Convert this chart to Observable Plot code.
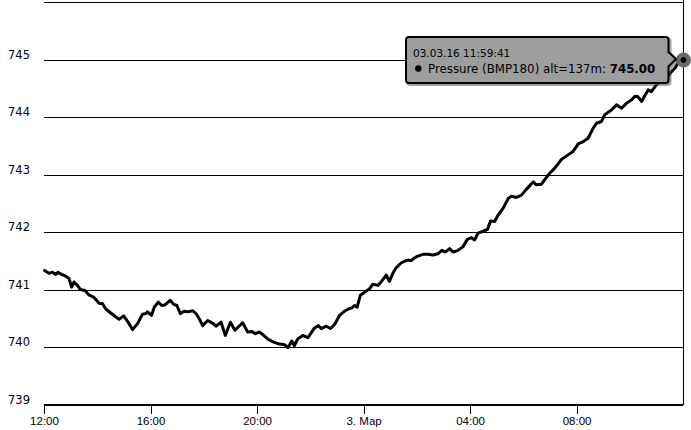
<!DOCTYPE html>
<html>
<head>
<meta charset="utf-8">
<script src="https://cdn.jsdelivr.net/npm/d3@7"></script>
<script src="https://cdn.jsdelivr.net/npm/@observablehq/plot@0.6"></script>
<style>
  html, body { margin: 0; padding: 0; background: #fff; }
</style>
</head>
<body>
<div id="chart"></div>
<script>
// Hours elapsed since 2016-03-02 12:00 and pressure readings (mm Hg)
const hours = [
  0.00, 0.17, 0.30, 0.42, 0.51, 0.64, 0.80, 0.92, 1.02, 1.11, 1.24, 1.34, 1.52, 1.68, 1.86,
  2.05, 2.18, 2.30, 2.49, 2.68, 2.80, 2.97, 3.14, 3.31, 3.50, 3.68, 3.81, 3.87, 4.02, 4.12,
  4.27, 4.40, 4.52, 4.72, 4.85, 4.97, 5.10, 5.25, 5.38, 5.56, 5.69, 5.81, 5.94, 6.13, 6.32,
  6.44, 6.63, 6.79, 6.98, 7.15, 7.44, 7.63, 7.78, 7.92, 8.07, 8.23, 8.40, 8.63, 8.82, 9.01,
  9.14, 9.29, 9.38, 9.51, 9.70, 9.89, 10.14, 10.29, 10.39, 10.58, 10.74, 10.91, 11.08, 11.26, 11.41,
  11.54, 11.64, 11.74, 11.86, 12.02, 12.20, 12.33, 12.52, 12.64, 12.83, 12.95, 13.08, 13.21, 13.39, 13.52,
  13.65, 13.77, 13.87, 14.02, 14.21, 14.40, 14.59, 14.77, 14.92, 15.05, 15.21, 15.34, 15.53, 15.71, 15.88,
  16.03, 16.15, 16.28, 16.50, 16.63, 16.75, 16.90, 17.03, 17.22, 17.41, 17.53, 17.72, 17.91, 18.09, 18.35,
  18.47, 18.66, 18.85, 18.97, 19.16, 19.41, 19.66, 19.85, 20.04, 20.23, 20.41, 20.60, 20.73, 20.91, 21.04,
  21.29, 21.48, 21.67, 21.86, 22.05, 22.17, 22.29, 22.42, 22.54, 22.67, 22.79, 22.98, 23.17, 23.36, 23.55,
  23.68, 23.80, 23.9947
];
const pressure = [
  741.34, 741.29, 741.31, 741.27, 741.31, 741.27, 741.24, 741.20, 741.05, 741.14, 741.08, 741.01, 740.99, 740.91, 740.87,
  740.77, 740.76, 740.67, 740.60, 740.53, 740.49, 740.55, 740.44, 740.31, 740.42, 740.58, 740.59, 740.62, 740.56, 740.70,
  740.79, 740.73, 740.74, 740.82, 740.75, 740.73, 740.59, 740.63, 740.62, 740.64, 740.59, 740.50, 740.38, 740.47, 740.42,
  740.37, 740.44, 740.21, 740.44, 740.30, 740.43, 740.27, 740.28, 740.24, 740.27, 740.21, 740.14, 740.09, 740.06, 740.05,
  740.00, 740.11, 740.03, 740.15, 740.21, 740.17, 740.34, 740.38, 740.33, 740.37, 740.33, 740.41, 740.56, 740.63, 740.67,
  740.69, 740.73, 740.70, 740.91, 740.96, 741.02, 741.10, 741.08, 741.14, 741.26, 741.15, 741.29, 741.39, 741.47, 741.50,
  741.52, 741.51, 741.55, 741.59, 741.62, 741.62, 741.61, 741.63, 741.69, 741.66, 741.72, 741.66, 741.69, 741.75, 741.88,
  741.91, 741.87, 741.99, 742.03, 742.05, 742.20, 742.19, 742.30, 742.42, 742.59, 742.63, 742.61, 742.65, 742.75, 742.88,
  742.83, 742.84, 742.96, 743.03, 743.12, 743.27, 743.35, 743.41, 743.54, 743.58, 743.64, 743.81, 743.90, 743.93, 744.05,
  744.13, 744.22, 744.16, 744.25, 744.31, 744.37, 744.36, 744.28, 744.38, 744.48, 744.45, 744.57, 744.66, 744.69, 744.80,
  744.86, 744.95, 745.00
];

const xTickTimes = ["2016-03-02T12:00", "2016-03-02T16:00", "2016-03-02T20:00", "2016-03-03T00:00", "2016-03-03T04:00", "2016-03-03T08:00"];
const xTickLabels = ["12:00", "16:00", "20:00", "3. Мар", "04:00", "08:00"];
const yGridValues = [740, 741, 742, 743, 744, 745, 746];
const yLabelValues = [739, 740, 741, 742, 743, 744, 745];
const yDomain = [739, 746];

const tooltipDate = "03.03.16 11:59:41";
const seriesName = "Pressure (BMP180) alt=137m";

const start = new Date(2016, 2, 2, 12, 0, 0);
const data = hours.map((h, i) => ({t: new Date(+start + h * 3600e3), v: pressure[i]}));
const last = data[data.length - 1];
const parseT = s => { const [d, tm] = s.split("T"); const [Y, M, D] = d.split("-").map(Number); const [hh, mm] = tm.split(":").map(Number); return new Date(Y, M - 1, D, hh, mm); };
const xTicks = xTickTimes.map(parseT);
const labelMap = new Map(xTicks.map((d, i) => [+d, xTickLabels[i]]));

const chart = Plot.plot({
  width: 691,
  height: 430,
  marginLeft: 44,
  marginRight: 8,
  marginTop: 2,
  marginBottom: 25.5,
  style: {fontFamily: "DejaVu Sans", fontSize: "11px", background: "#fff", overflow: "visible", color: "#000"},
  x: {type: "time", domain: [start, last.t], axis: null, label: null},
  y: {domain: yDomain, axis: null, label: null},
  marks: [
    Plot.ruleY(yGridValues, {stroke: "#000", strokeWidth: 1, shapeRendering: "crispEdges"}),
    Plot.ruleY([yDomain[0]], {stroke: "#000", strokeWidth: 1.3, shapeRendering: "crispEdges"}),
    Plot.axisX({ticks: xTicks, tickFormat: d => labelMap.get(+d), tickSize: 9, tickPadding: 2.5, label: null,
      stroke: "#000", fill: "#000", fontFamily: "Liberation Sans", fontSize: 11.5, shapeRendering: "crispEdges"}),
    Plot.text(yLabelValues, {y: d => d, text: d => String(d), frameAnchor: "left", dx: -36.5,
      textAnchor: "start", lineAnchor: "bottom", dy: -1.5, fill: "#000", fontSize: 11.5}),
    Plot.line(data, {x: "t", y: "v", stroke: "#000", strokeWidth: 3, strokeLinejoin: "round", strokeLinecap: "round"}),
    Plot.ruleX([last], {x: "t", stroke: "#000", strokeWidth: 1, insetTop: -3, shapeRendering: "crispEdges"}),
    Plot.dot([last], {x: "t", y: "v", r: 7.5, fill: "#6a6a6a", stroke: "none"}),
    Plot.dot([last], {x: "t", y: "v", r: 3.5, fill: "#000", stroke: "#888", strokeWidth: 0.8})
  ]
});
document.getElementById("chart").appendChild(chart);

// Tooltip anchored on the last point, positioned through the chart scales
const px = chart.scale("x").apply(last.t);
const py = chart.scale("y").apply(last.v);
const L = px - 277, R = px - 14.5, T = py - 22.5, B = py + 23.5, r = 3;
const tipX = px - 7;
const pathD = `M${L + r},${T} H${R - r} Q${R},${T} ${R},${T + r} V${py - 7.5} L${tipX},${py - 0.5} L${R},${py + 7} V${B - r} Q${R},${B} ${R - r},${B} H${L + r} Q${L},${B} ${L},${B - r} V${T + r} Q${L},${T} ${L + r},${T} Z`;
const svg = d3.select(chart);
const g = svg.append("g").attr("class", "tooltip").attr("text-anchor", "start");
g.append("path").attr("d", pathD).attr("transform", "translate(1.5,1.5)")
  .attr("fill", "none").attr("stroke", "#555").attr("stroke-opacity", 0.55).attr("stroke-width", 3);
g.append("path").attr("d", pathD).attr("fill", "#9d9d9d").attr("stroke", "#000").attr("stroke-width", 2);
g.append("text").attr("x", L + 7).attr("y", py - 3).attr("text-anchor", "start").attr("font-family", "DejaVu Sans").attr("font-size", 10.5)
  .attr("fill", "#000").text(tooltipDate);
g.append("circle").attr("cx", L + 12.3).attr("cy", py + 9).attr("r", 3.2).attr("fill", "#000");
const t2 = g.append("text").attr("x", L + 22).attr("y", py + 13).attr("text-anchor", "start").attr("font-family", "DejaVu Sans")
  .attr("font-size", 11.8).attr("fill", "#000");
t2.append("tspan").text(seriesName + ": ");
t2.append("tspan").attr("font-weight", "bold").text(last.v.toFixed(2));
</script>
</body>
</html>
